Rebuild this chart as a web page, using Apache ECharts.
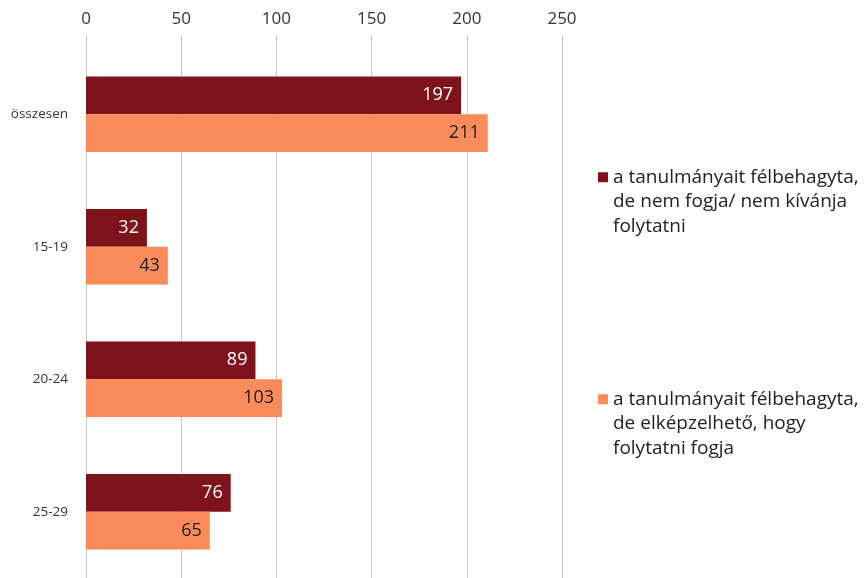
<!DOCTYPE html>
<html>
<head>
<meta charset="utf-8">
<script src="https://cdn.jsdelivr.net/npm/echarts@6/dist/echarts.min.js"></script>
<style>
  html, body { margin: 0; padding: 0; background: #fff; }
  #chart { width: 866px; height: 578px; }
</style>
</head>
<body>
<div id="chart"></div>
<script>
const categories = ["összesen", "15-19", "20-24", "25-29"];
const seriesNames = [
  "a tanulmányait félbehagyta,\nde nem fogja/ nem kívánja\nfolytatni",
  "a tanulmányait félbehagyta,\nde elképzelhető, hogy\nfolytatni fogja"
];
const notContinue = [197, 32, 89, 76];
const mayContinue = [211, 43, 103, 65];
const xTicks = [0, 50, 100, 150, 200, 250];

const darkRed = "#7F131B";
const orange = "#F98C5A";
const font = "'Open Sans', 'Noto Sans', sans-serif";

const chart = echarts.init(document.getElementById("chart"));

// square sitting on the first text line (tall invisible box keeps it up)
const topSquare = "path://M0,0h10v10h-10z M0,59h10v0.001h-10z";

const legendCommon = {
  orient: "vertical",
  left: 598,
  padding: 0,
  icon: topSquare,
  itemWidth: 10,
  itemHeight: 59,
  itemGap: 0,
  textStyle: { fontFamily: font, fontSize: 19, color: "#222", lineHeight: 24.5 }
};

chart.setOption({
  animation: false,
  grid: { left: 86, right: 304, top: 48, bottom: -2, containLabel: false },
  legend: [
    Object.assign({}, legendCommon, { top: 165, data: [seriesNames[0]] }),
    Object.assign({}, legendCommon, { top: 387, data: [seriesNames[1]] })
  ],
  xAxis: {
    type: "value",
    position: "top",
    min: xTicks[0],
    max: xTicks[xTicks.length - 1],
    interval: 50,
    axisLine: { show: false },
    axisTick: { show: true, length: 13, lineStyle: { color: "#c8c8c8" } },
    axisLabel: { fontFamily: font, fontSize: 17, color: "#333", margin: 20 },
    splitLine: { show: true, lineStyle: { color: "#c8c8c8" } }
  },
  yAxis: {
    type: "category",
    inverse: true,
    data: categories,
    axisLine: { show: false },
    axisTick: { show: false },
    axisLabel: { fontFamily: font, fontSize: 13.5, color: "#333", margin: 18 }
  },
  series: [
    {
      name: seriesNames[0],
      type: "bar",
      data: notContinue,
      barGap: "0%",
      barCategoryGap: "43%",
      itemStyle: { color: darkRed },
      label: {
        show: true,
        position: "insideRight",
        distance: 8,
        color: "#fff",
        fontFamily: font,
        fontSize: 18
      }
    },
    {
      name: seriesNames[1],
      type: "bar",
      data: mayContinue,
      barGap: "0%",
      barCategoryGap: "43%",
      itemStyle: { color: orange },
      label: {
        show: true,
        position: "insideRight",
        distance: 8,
        color: "#222",
        fontFamily: font,
        fontSize: 18
      }
    }
  ]
});
</script>
</body>
</html>
